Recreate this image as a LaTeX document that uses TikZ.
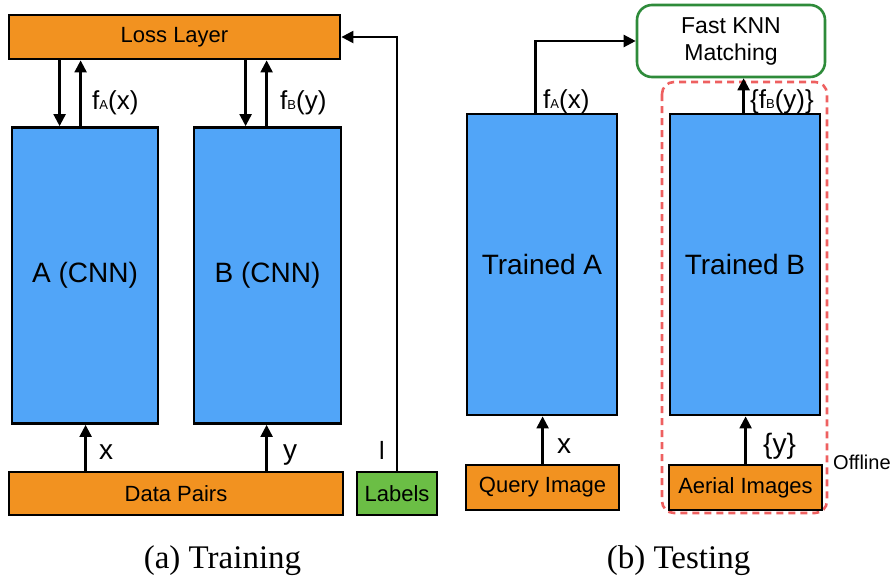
\documentclass[tikz,border=0pt]{standalone}
\usepackage{fontspec}
\setmainfont{Liberation Serif}
\setsansfont{Liberation Sans}
\usetikzlibrary{arrows.meta}
\definecolor{orgfill}{HTML}{F29220}
\definecolor{bluefill}{HTML}{51A5F8}
\definecolor{greenfill}{HTML}{6BBE45}
\definecolor{knngreen}{HTML}{2E8B3A}
\definecolor{dashred}{HTML}{EE6060}
\newcommand{\fsz}[1]{\fontsize{#1}{#1}\selectfont}
\tikzset{
  box/.style={draw=black, line width=2.8pt, inner sep=0pt, font=\sffamily\fsz{22}},
  orangebox/.style={box, fill=orgfill},
  cnnbox/.style={box, fill=bluefill, font=\sffamily\fsz{28}},
  greenbox/.style={box, fill=greenfill},
  arr/.style={line width=2.3pt, -{Triangle[length=12pt,width=12pt]}},
  lbl/.style={inner sep=0pt, anchor=base west, font=\sffamily\fsz{26}},
  captext/.style={inner sep=0pt, anchor=base, font=\rmfamily\fsz{33}}
}
\newcommand{\subsm}[1]{{\fsz{13}#1}}
\begin{document}
\begin{tikzpicture}[x=1pt,y=-1pt]
\useasboundingbox (0,0) rectangle (893,579);
% ---------- (a) Training ----------
\node[orangebox, minimum width=331pt, minimum height=44pt] (loss) at (174.5,37) {Loss Layer};
\node[cnnbox, minimum width=146pt, minimum height=296pt] (A) at (85,275.5) {A (CNN)};
\node[cnnbox, minimum width=147pt, minimum height=296pt] (B) at (267.5,275.5) {B (CNN)};
\node[orangebox, minimum width=334pt, minimum height=43pt] (dp) at (176,493.5) {Data Pairs};
\node[greenbox, minimum width=80pt, minimum height=43pt] (lab) at (397,493.5) {Labels};

\coordinate (a1) at ([xshift=49pt]A.north west);
\coordinate (a2) at ([xshift=70pt]A.north west);
\coordinate (b1) at ([xshift=53pt]B.north west);
\coordinate (b2) at ([xshift=74pt]B.north west);
\coordinate (ax) at ([xshift=75pt]A.south west);
\coordinate (by) at ([xshift=74pt]B.south west);

\draw[arr] (a1 |- loss.south) -- (a1);
\draw[arr] (a2) -- (a2 |- loss.south);
\draw[arr] (b1 |- loss.south) -- (b1);
\draw[arr] (b2) -- (b2 |- loss.south);
\draw[arr] (ax |- dp.north) -- (ax);
\draw[arr] (by |- dp.north) -- (by);
\draw[arr] (lab.north) |- (loss.east);

\node[lbl, font=\sffamily\fsz{26}] (fa) at (92,109) {f\subsm{A}(x)};
\node[lbl, font=\sffamily\fsz{26}] (fb) at (280,109) {f\subsm{B}(y)};
\node[lbl, font=\sffamily\fsz{28}] (xl) at (99,459) {x};
\node[lbl, font=\sffamily\fsz{28}] (yl) at (283,459) {y};
\node[lbl, font=\sffamily\fsz{25}] (ll) at (379,459) {l};
\node[captext] (capa) at (222.5,568) {(a) Training};

% ---------- (b) Testing ----------
\draw[dashred, line width=2.6pt, dash pattern=on 7pt off 5pt, rounded corners=12pt] (662,82) rectangle (827,513);
\node[draw=knngreen, line width=2.6pt, rounded corners=15pt, fill=white, minimum width=188pt, minimum height=72pt, align=center, font=\sffamily\fsz{23}] (knn) at (731,41) {Fast KNN\\[4pt]Matching};
\node[cnnbox, minimum width=150pt, minimum height=301pt] (TA) at (542,264.5) {Trained A};
\node[cnnbox, minimum width=150pt, minimum height=301pt] (TB) at (745,264.5) {Trained B};
\node[orangebox, minimum width=153pt, minimum height=45pt] (qi) at (542.5,487.5) {Query Image};
\node[orangebox, minimum width=153pt, minimum height=45pt] (ai) at (745.5,487.5) {Aerial Images};

\coordinate (ta1) at ([xshift=70pt]TA.north west);
\coordinate (tb1) at ([xshift=75pt]TB.north west);
\coordinate (tax) at ([xshift=77pt]TA.south west);
\coordinate (tby) at ([xshift=77pt]TB.south west);

\draw[arr] (ta1) |- (knn.west);
\draw[arr] (tb1) -- (tb1 |- knn.south);
\draw[arr] (tax |- qi.north) -- (tax);
\draw[arr] (tby |- ai.north) -- (tby);

\node[lbl, font=\sffamily\fsz{26}] (fa2) at (543,108) {f\subsm{A}(x)};
\node[lbl, font=\sffamily\fsz{26}] (fb2) at (750,108) {\{f\subsm{B}(y)\}};
\node[lbl, font=\sffamily\fsz{28}] (xl2) at (557,453) {x};
\node[lbl, font=\sffamily\fsz{28}] (yl2) at (763,453) {\{y\}};
\node[lbl, font=\sffamily\fsz{20}] (off) at (833,469) {Offline};
\node[captext] (capb) at (678.5,568) {(b) Testing};
\end{tikzpicture}
\end{document}
